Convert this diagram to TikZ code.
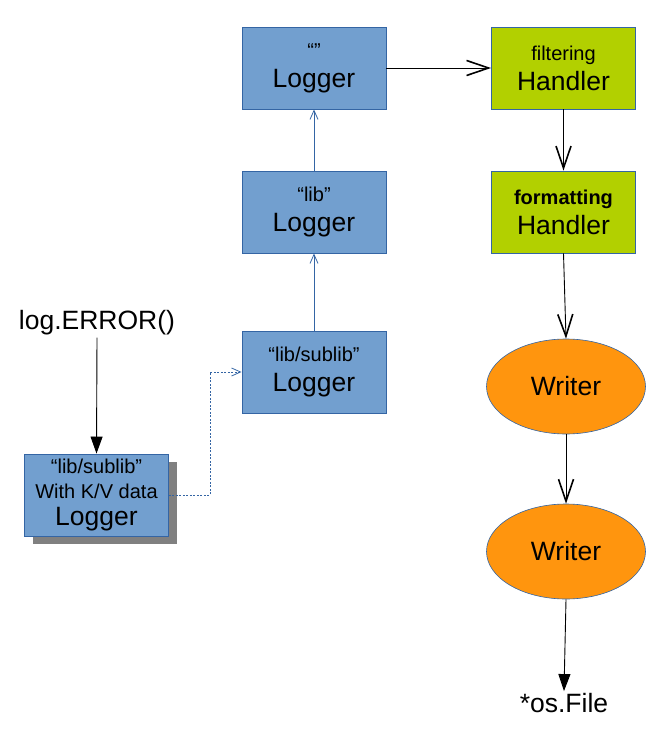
\documentclass[tikz,border=0pt]{standalone}
\usepackage{fontspec}
\setmainfont{Liberation Sans}
\usepackage{xcolor}
\usetikzlibrary{arrows.meta,shapes.geometric,shadows}
\definecolor{loggerblue}{HTML}{729FCF}
\definecolor{lineblue}{HTML}{3465A4}
\definecolor{handlergreen}{HTML}{B2D000}
\definecolor{writerorange}{HTML}{FF950E}
\newcommand\smalltxt{\fontsize{20}{24}\selectfont}
\newcommand\bigtxt{\fontsize{26.5}{30}\selectfont}

\begin{document}
\begin{tikzpicture}[x=1pt,y=-1pt,
	logger/.style={draw=lineblue,fill=loggerblue,line width=0.9pt,minimum width=144pt,minimum height=82pt,align=center,inner sep=0pt,font=\bigtxt},
	handler/.style={logger,fill=handlergreen},
	writer/.style={ellipse,draw=lineblue,line width=0.6pt,fill=writerorange,minimum width=159pt,minimum height=95pt,inner sep=0pt,font=\bigtxt},
	label/.style={font=\bigtxt,inner sep=2pt},
	openarrow/.style={-{Straight Barb[length=22pt,width=15pt,line width=1.6pt]},line width=0.9pt},
	fillarrow/.style={-{Triangle[length=17pt,width=12pt]},line width=0.9pt},
	bluearrow/.style={-{Straight Barb[length=9pt,width=8pt,line width=0.8pt]},draw=lineblue,line width=0.8pt}]
	\useasboundingbox (0,0) rectangle (666,743);
	\node[logger] (root) at (314,68) {\smalltxt “”\\\bigtxt Logger};
	\node[logger] (lib) at (314,212) {\smalltxt “lib”\\\bigtxt Logger};
	\node[logger] (sub) at (314,372) {\smalltxt “lib/sublib”\\\bigtxt Logger};
	\node[logger,drop shadow={shadow xshift=8pt,shadow yshift=-8pt,fill=black!50,opacity=1}] (kv) at (96.5,495) {\smalltxt “lib/sublib”\\[-5pt]\smalltxt With K/V data\\[-3pt]\bigtxt Logger};
	\node[handler] (filt) at (563.5,68) {\smalltxt filtering\\\bigtxt Handler};
	\node[handler] (fmt) at (563.5,212) {\smalltxt\bfseries formatting\\\bigtxt Handler};
	\node[writer] (w1) at (566,386.5) {Writer};
	\node[writer] (w2) at (566,551.5) {Writer};
	\node[label] (err) at (97,323) {log.ERROR()};
	\node[label] (file) at (564,703) {*os.File};
	\draw[openarrow] (root.east) -- (filt.west);
	\draw[openarrow] (filt.south) -- (fmt.north);
	\draw[openarrow] (fmt.south) -- (w1.north);
	\draw[openarrow] (w1.south) -- (w2.north);
	\draw[fillarrow] (w2.south) -- (file.north);
	\draw[fillarrow] (err.south) -- (kv.north);
	\draw[bluearrow] (sub.north) -- (lib.south);
	\draw[bluearrow] (lib.north) -- (root.south);
	\draw[bluearrow,dash pattern=on 2pt off 1.5pt] (kv.east) -- ++(41,0) |- (sub.west);
\end{tikzpicture}
\end{document}
